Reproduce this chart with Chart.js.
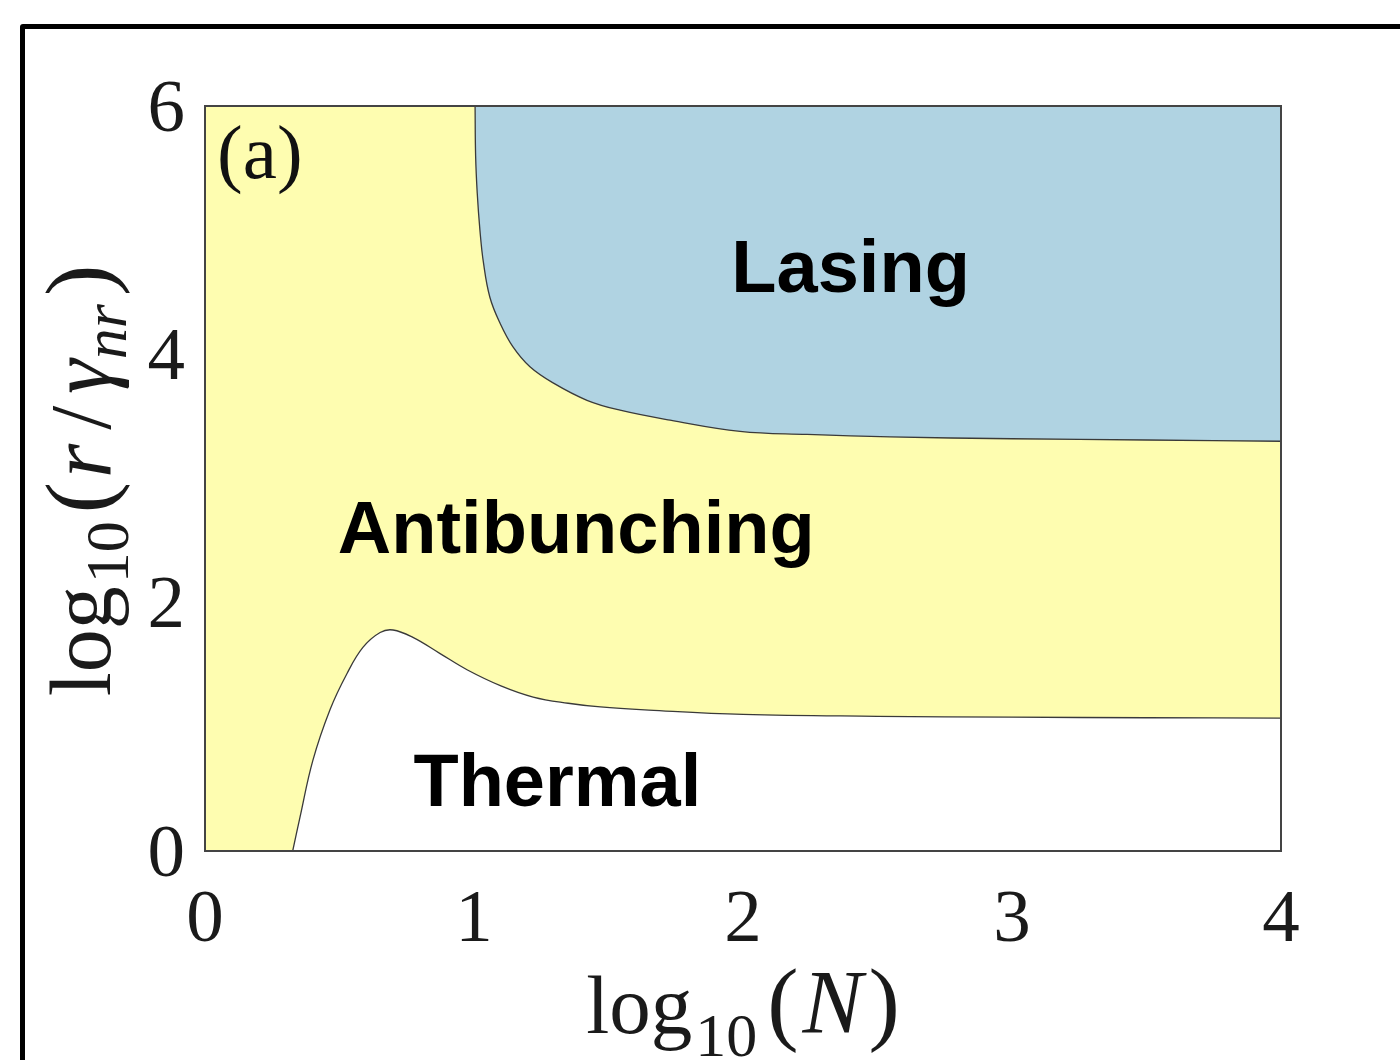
<!DOCTYPE html>
<html>
<head>
<meta charset="utf-8">
<script src="https://cdn.jsdelivr.net/npm/chart.js@4.4.1/dist/chart.umd.min.js"></script>
<style>
  html, body { margin: 0; padding: 0; background: #ffffff; overflow: hidden; }
  #frame {
    position: absolute; left: 20px; top: 24px;
    width: 1420px; height: 1100px;
    border: 5px solid #000; border-radius: 3px;
  }
  #chart { position: absolute; left: 0; top: 0; }
</style>
</head>
<body>
<div id="frame"></div>
<canvas id="chart" width="1400" height="1060"></canvas>
<script>
// log10(N) on x, log10(r / gamma_nr) on y
const xTickValues = [0, 1, 2, 3, 4];
const yTickValues = [0, 2, 4, 6];

// lower edge of the lasing region
const lasingX = [1.004, 1.006, 1.012, 1.022, 1.035, 1.059, 1.097, 1.145, 1.208, 1.294, 1.420, 1.543, 1.729, 1.989, 2.238, 2.546, 3.0, 3.5, 4.0];
const lasingY = [6.0, 5.60, 5.30, 5.00, 4.74, 4.46, 4.25, 4.06, 3.90, 3.77, 3.63, 3.55, 3.47, 3.38, 3.355, 3.335, 3.32, 3.31, 3.30];

// upper edge of the thermal region
const thermalX = [0.326, 0.353, 0.401, 0.465, 0.528, 0.587, 0.651, 0.699, 0.773, 0.874, 0.974, 1.10, 1.22, 1.35, 1.47, 1.65, 2.0, 2.5, 3.0, 3.5, 4.0];
const thermalY = [0.0, 0.27, 0.73, 1.14, 1.43, 1.64, 1.76, 1.78, 1.72, 1.59, 1.46, 1.33, 1.24, 1.19, 1.16, 1.135, 1.10, 1.085, 1.078, 1.073, 1.07];

// region names, placed at (x centre, y baseline)
const regionNames = ['Lasing', 'Antibunching', 'Thermal'];
const regionX = [2.40, 1.38, 1.31];
const regionY = [4.50, 2.40, 0.36];

const panelLabel = '(a)';

const toPoints = (xs, ys) => xs.map((x, i) => ({ x: x, y: ys[i] }));

const SERIF = "'Liberation Serif', 'DejaVu Serif', serif";
const SANS = "'Liberation Sans', Arial, sans-serif";

// draws a run of text pieces (font, text, baseline shift, gap after)
function drawPieces(ctx, pieces, cx, baseY) {
    let total = 0;
    pieces.forEach(p => {
        ctx.font = p.font;
        p.w = ctx.measureText(p.text).width;
        total += p.w + (p.gap || 0);
    });
    let x = cx - total / 2;
    ctx.textAlign = 'left';
    ctx.textBaseline = 'alphabetic';
    pieces.forEach(p => {
        ctx.font = p.font;
        ctx.fillText(p.text, x, baseY + (p.dy || 0));
        x += p.w + (p.gap || 0);
    });
}

const decorPlugin = {
    id: 'decor',
    beforeDraw(chart) {
        const { ctx, chartArea: a } = chart;
        ctx.save();
        ctx.fillStyle = '#FEFDB0';
        ctx.fillRect(a.left, a.top, a.right - a.left, a.bottom - a.top);
        ctx.restore();
    },
    afterDraw(chart) {
        const { ctx, chartArea: a, scales } = chart;
        ctx.save();

        // plot box
        ctx.strokeStyle = '#444444';
        ctx.lineWidth = 2;
        ctx.strokeRect(a.left, a.top, a.right - a.left, a.bottom - a.top);

        // region names
        ctx.fillStyle = '#000000';
        ctx.font = 'bold 74px ' + SANS;
        ctx.textAlign = 'center';
        ctx.textBaseline = 'alphabetic';
        regionNames.forEach((name, i) => {
            ctx.fillText(name, scales.x.getPixelForValue(regionX[i]), scales.y.getPixelForValue(regionY[i]));
        });

        // panel label
        ctx.fillStyle = '#111111';
        ctx.font = '77px ' + SERIF;
        ctx.textAlign = 'left';
        ctx.fillText(panelLabel, scales.x.getPixelForValue(0.045), scales.y.getPixelForValue(5.42));

        // x axis title: log10(N)
        ctx.fillStyle = '#1a1a1a';
        const cx = (a.left + a.right) / 2;
        drawPieces(ctx, [
            { text: 'log', font: '83px ' + SERIF, gap: 3 },
            { text: '10', font: '62px ' + SERIF, dy: 23, gap: 10 },
            { text: '(', font: '94px ' + SERIF, gap: 4 },
            { text: 'N', font: 'italic 90px ' + SERIF, gap: 6 },
            { text: ')', font: '94px ' + SERIF }
        ], cx, a.bottom + 182);

        // y axis title: log10(r / gamma_nr)
        ctx.translate(110, (a.top + a.bottom) / 2 + 2);
        ctx.rotate(-Math.PI / 2);
        drawPieces(ctx, [
            { text: 'log', font: '86px ' + SERIF, gap: 3 },
            { text: '10', font: '62px ' + SERIF, dy: 18, gap: 8 },
            { text: '(', font: '94px ' + SERIF, gap: 4 },
            { text: 'r', font: 'italic 88px ' + SERIF, gap: 14 },
            { text: '/', font: '86px ' + SERIF, gap: 12 },
            { text: '\u03B3', font: 'italic 88px ' + SERIF, gap: 0 },
            { text: 'nr', font: 'italic 62px ' + SERIF, dy: 16, gap: 8 },
            { text: ')', font: '94px ' + SERIF }
        ], 0, 0);

        ctx.restore();
    }
};

new Chart(document.getElementById('chart'), {
    type: 'line',
    data: {
        datasets: [
            {
                label: 'Lasing',
                data: toPoints(lasingX, lasingY),
                borderColor: '#3a3a3a',
                borderWidth: 1.3,
                backgroundColor: '#B0D3E2',
                fill: 'end',
                pointRadius: 0,
                tension: 0.4
            },
            {
                label: 'Thermal',
                data: toPoints(thermalX, thermalY),
                borderColor: '#3a3a3a',
                borderWidth: 1.3,
                backgroundColor: '#ffffff',
                fill: 'start',
                pointRadius: 0,
                tension: 0.4
            }
        ]
    },
    options: {
        responsive: false,
        animation: false,
        devicePixelRatio: 1,
        layout: {
            padding: { left: 0, top: 106, right: 119, bottom: 0 }
        },
        plugins: {
            legend: { display: false },
            tooltip: { enabled: false }
        },
        scales: {
            x: {
                type: 'linear',
                min: 0,
                max: 4,
                grid: { display: false, drawTicks: false },
                border: { display: false },
                afterBuildTicks: scale => { scale.ticks = xTickValues.map(v => ({ value: v })); },
                afterFit: scale => { scale.height = 209; },
                ticks: {
                    color: '#1a1a1a',
                    padding: 25,
                    maxRotation: 0,
                    font: { family: SERIF, size: 75 }
                }
            },
            y: {
                type: 'linear',
                min: 0,
                max: 6,
                grid: { display: false, drawTicks: false },
                border: { display: false },
                afterBuildTicks: scale => { scale.ticks = yTickValues.map(v => ({ value: v })); },
                afterFit: scale => { scale.width = 205; },
                ticks: {
                    color: '#1a1a1a',
                    padding: 20,
                    labelOffset: 5,
                    font: { family: SERIF, size: 75 }
                }
            }
        }
    },
    plugins: [decorPlugin]
});
</script>
</body>
</html>
